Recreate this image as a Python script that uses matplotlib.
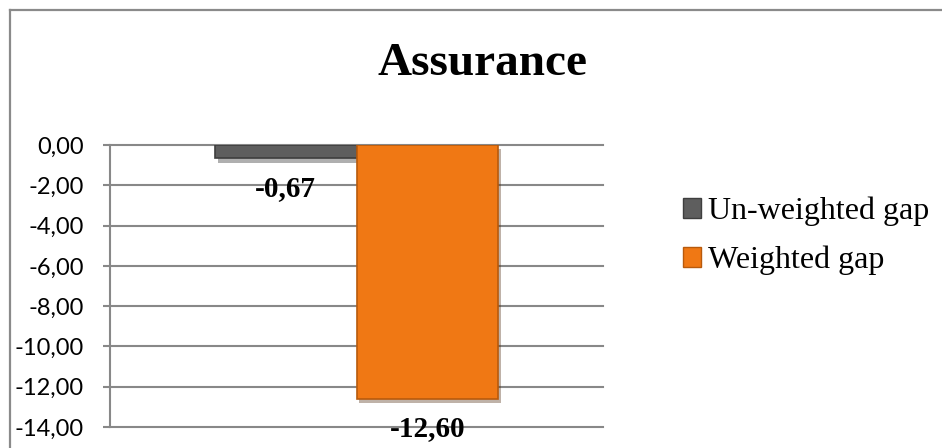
import matplotlib
matplotlib.use("Agg")
import matplotlib.pyplot as plt
import matplotlib.patheffects as pe
from matplotlib.lines import Line2D
from matplotlib.patches import Patch

title = "Assurance"
series_names = ["Un-weighted gap", "Weighted gap"]
values = [-0.67, -12.60]
colors = ["#5e5e5e", "#f07814"]
edge_colors = ["#3e3e3e", "#b85a0c"]
yticks = [0, -2, -4, -6, -8, -10, -12, -14]

def fmt(v):
    return f"{v:.2f}".replace(".", ",")

W, H = 942, 448
fig = plt.figure(figsize=(W / 100, H / 100), dpi=100)
fig.patch.set_facecolor("white")

ax = fig.add_axes([110 / W, 1 - 427 / H, (603 - 110) / W, (427 - 145) / H])
ax.set_facecolor("white")

grid_c = "#888888"
positions = [-0.5, 0.5]
for pos, v, c, ec, name in zip(positions, values, colors, edge_colors, series_names):
    b = ax.bar(pos, v, width=1.0, color=c, edgecolor=ec, linewidth=1.2, label=name, zorder=3)
    for p in b:
        p.set_path_effects([pe.SimplePatchShadow(offset=(2, -3), alpha=0.35), pe.Normal()])
    ax.annotate(fmt(v), xy=(pos, v), xytext=(0, -30), textcoords="offset pixels",
                ha="center", va="center", fontsize=21, fontweight="bold",
                family="Liberation Serif", zorder=5)

ax.set_xlim(-1.742, 1.742)
ax.set_ylim(-14, 0)
ax.set_yticks(yticks)
ax.set_yticklabels([fmt(t) for t in yticks], family="Lato", fontsize=17)
ax.set_xticks([])
for y in yticks:
    ax.axhline(y, color=grid_c, lw=1.5, zorder=1, clip_on=False)
for s in ["top", "right", "bottom"]:
    ax.spines[s].set_visible(False)
ax.spines["left"].set_color(grid_c)
ax.spines["left"].set_linewidth(1.5)
ax.tick_params(axis="y", length=5, width=1.5, color=grid_c, pad=14, labelcolor="black")

fig.text(482 / W, 1 - 75 / H, title, ha="center", va="baseline",
         fontsize=34, fontweight="bold", family="Liberation Serif")

handles = [Patch(facecolor=c, edgecolor=ec, linewidth=1.0) for c, ec in zip(colors, edge_colors)]
fig.legend(handles=handles, labels=series_names,
           loc="center left", bbox_to_anchor=(683 / W, 1 - 236 / H),
           frameon=False, prop={"family": "Liberation Serif", "size": 23},
           handlelength=0.56, handleheight=0.56, handletextpad=0.22,
           labelspacing=0.62, borderpad=0, borderaxespad=0)

# outer chart border
fig.add_artist(Line2D([10 / W, 1], [1 - 10 / H, 1 - 10 / H], transform=fig.transFigure,
                      color="#8a8a8a", lw=1.6))
fig.add_artist(Line2D([10 / W, 10 / W], [0, 1 - 10 / H], transform=fig.transFigure,
                      color="#8a8a8a", lw=1.6))

fig.savefig("out.png", dpi=100, facecolor="white")
